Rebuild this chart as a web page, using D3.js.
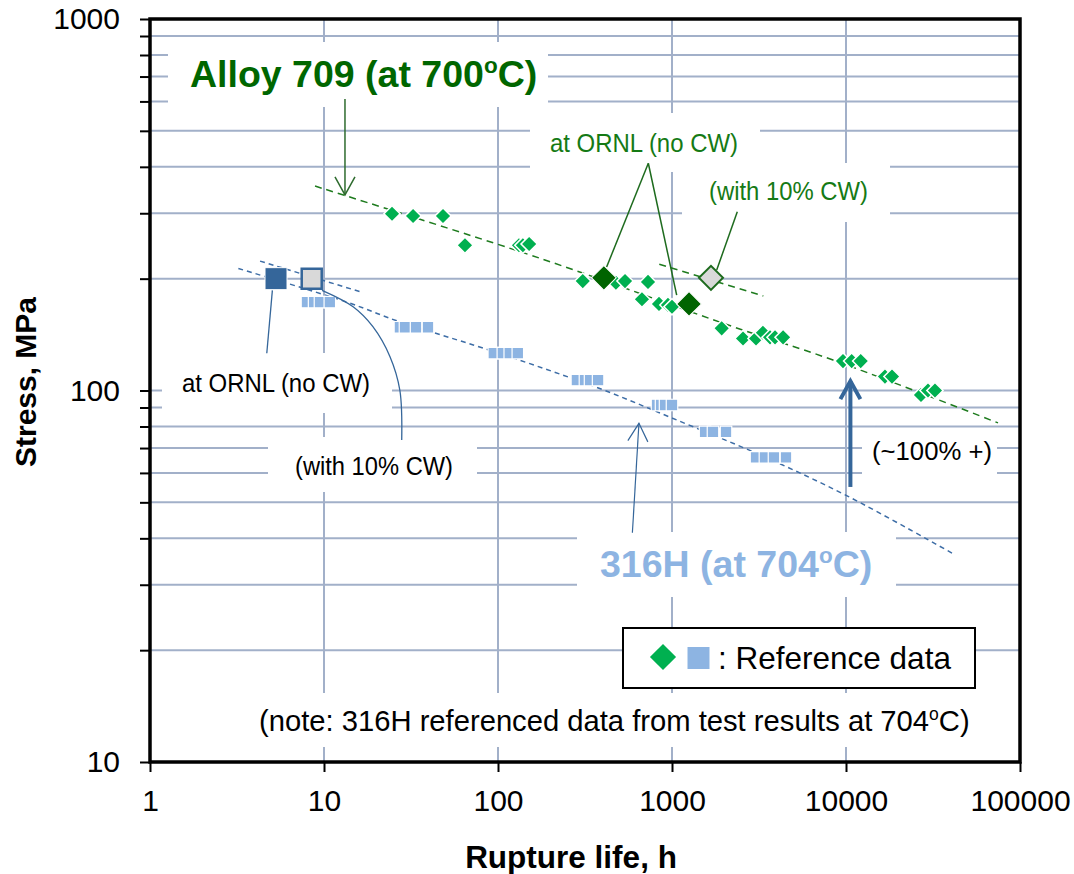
<!DOCTYPE html>
<html>
<head>
<meta charset="utf-8">
<script src="https://cdn.jsdelivr.net/npm/d3@7"></script>
<style>
  body { margin: 0; background: #fff; }
  svg { display: block; font-family: Arial, "Liberation Sans", sans-serif; }
</style>
</head>
<body>
<div id="chart"></div>
<script>
// [rupture life (h), stress (MPa)]
const alloyRef = [
  [24.6, 299], [32.5, 295], [48.3, 295], [64.6, 246], [132, 246], [139, 246], [151, 248],
  [307, 197], [476, 195], [537, 197], [728, 196], [672, 176], [842, 171], [948, 170], [1000, 168],
  [1930, 147], [2560, 138], [3040, 138], [3330, 143], [3660, 139], [3910, 139], [4350, 139],
  [9610, 120], [10780, 120], [12150, 120], [16750, 109], [18380, 109],
  [26980, 97.3], [29600, 100], [32460, 100]
];
const alloyOrnl = [[406, 201], [1253, 171]];
const alloyCw = [[1675, 201]];

const ss316Ref = [
  [7.98, 173], [8.77, 173], [9.48, 173], [10.8, 173],
  [27.3, 148], [29.2, 148], [33.8, 148], [39.6, 148],
  [94.6, 126], [106.6, 126], [116.8, 126], [130, 126],
  [284, 106.7], [316, 106.7], [338, 106.7], [376, 106.7],
  [820, 91.4], [865, 91.4], [912, 91.4], [1000, 91.4],
  [1549, 77.4], [1720, 77.4], [2044, 77.4],
  [3040, 66.1], [3420, 66.1], [3856, 66.1], [4520, 66.1]
];
const ss316Ornl = [[5.3, 200]];
const ss316Cw = [[8.5, 200]];

// trend lines
const alloyTrend = [[8.88, 355], [174, 227], [2243, 148.5], [8420, 120.8], [74750, 81.8]];
const alloyCwTrend = [[845, 218.8], [3348, 179.7]];
const ss316Trend = [[3.22, 213], [13.5, 173], [27.3, 153], [72.1, 132.6], [166.8, 116.4],
  [405, 100.3], [1007, 84.2], [3396, 66.3], [10350, 51.8], [40650, 36.5]];
const ss316CwTrend = [[4.29, 223], [16.8, 183.4]];

const xTicks = [1, 10, 100, 1000, 10000, 100000];
const yTicks = [10, 100, 1000];
const yMinor = [20, 30, 40, 50, 60, 70, 80, 90, 200, 300, 400, 500, 600, 700, 800, 900];

const W = 1074, H = 874;
const plot = { left: 150, right: 1020, top: 19, bottom: 762 };

const svg = d3.select('#chart').append('svg')
  .attr('width', W).attr('height', H);

const x = d3.scaleLog().domain([1, 100000]).range([plot.left, plot.right]);
const y = d3.scaleLog().domain([10, 1000]).range([plot.bottom, plot.top]);

const gridColor = '#a2b0c9';
const green = '#00b050', darkGreen = '#006400', lightBlue = '#8db4e2', darkBlue = '#35669a';

// Grid
svg.append('g').selectAll('line')
  .data(xTicks.slice(1, -1))
  .join('line')
  .attr('x1', d => x(d)).attr('x2', d => x(d))
  .attr('y1', plot.top).attr('y2', plot.bottom)
  .attr('stroke', gridColor).attr('stroke-width', 2);

svg.append('g').selectAll('line')
  .data(yMinor.concat([100]))
  .join('line')
  .attr('x1', plot.left).attr('x2', plot.right)
  .attr('y1', d => y(d)).attr('y2', d => y(d))
  .attr('stroke', gridColor).attr('stroke-width', 2);

// White text boxes (hide grid behind labels)
const boxes = [
  [168, 42, 380, 65], [530, 113, 230, 59], [682, 163, 208, 59],
  [162, 353, 230, 60], [268, 437, 209, 55], [577, 532, 319, 65],
  [862, 432, 135, 53], [250, 693, 725, 54]
];
svg.append('g').selectAll('rect')
  .data(boxes)
  .join('rect')
  .attr('x', d => d[0]).attr('y', d => d[1])
  .attr('width', d => d[2]).attr('height', d => d[3])
  .attr('fill', '#fff');

// Trend lines
const line = d3.line().x(d => x(d[0])).y(d => y(d[1])).curve(d3.curveCatmullRom);
const trends = [
  [alloyTrend, '#1e7b1e', '7,5'], [alloyCwTrend, '#1e7b1e', '7,5'],
  [ss316Trend, '#3d6da6', '5,4'], [ss316CwTrend, '#3d6da6', '5,4']
];
trends.forEach(([pts, c, dash]) => {
  svg.append('path').datum(pts)
    .attr('d', line)
    .attr('fill', 'none')
    .attr('stroke', c)
    .attr('stroke-width', 1.5)
    .attr('stroke-dasharray', dash);
});

// Markers
const diamond = s => d3.symbol(d3.symbolSquare, s * s)();
const square = s => d3.symbol(d3.symbolSquare, s * s)();

svg.append('g').selectAll('path')
  .data(ss316Ref)
  .join('path')
  .attr('d', square(11.5))
  .attr('transform', d => `translate(${x(d[0])},${y(d[1])})`)
  .attr('fill', lightBlue).attr('stroke', '#fff').attr('stroke-width', 1.2);

svg.append('g').selectAll('path')
  .data(alloyRef)
  .join('path')
  .attr('d', diamond(11.5))
  .attr('transform', d => `translate(${x(d[0])},${y(d[1])}) rotate(45)`)
  .attr('fill', green).attr('stroke', '#fff').attr('stroke-width', 1.5);

svg.append('g').selectAll('path')
  .data(alloyOrnl)
  .join('path')
  .attr('d', diamond(17.5))
  .attr('transform', d => `translate(${x(d[0])},${y(d[1])}) rotate(45)`)
  .attr('fill', darkGreen).attr('stroke', '#fff').attr('stroke-width', 1);

svg.append('g').selectAll('path')
  .data(alloyCw)
  .join('path')
  .attr('d', diamond(17))
  .attr('transform', d => `translate(${x(d[0])},${y(d[1])}) rotate(45)`)
  .attr('fill', '#d9d9d9').attr('stroke', '#1e6b1e').attr('stroke-width', 2);

svg.append('g').selectAll('path')
  .data(ss316Ornl)
  .join('path')
  .attr('d', square(22))
  .attr('transform', d => `translate(${x(d[0])},${y(d[1])})`)
  .attr('fill', darkBlue).attr('stroke', '#fff').attr('stroke-width', 1);

svg.append('g').selectAll('path')
  .data(ss316Cw)
  .join('path')
  .attr('d', square(20))
  .attr('transform', d => `translate(${x(d[0])},${y(d[1])})`)
  .attr('fill', '#d9d9d9').attr('stroke', darkBlue).attr('stroke-width', 2.5);

// Leader lines and arrows (positions in data units)
const leaders = [
  [[[731, 409], [421, 215]], '#1e6b1e', 1.5],
  [[[731, 409], [1064, 180.7]], '#1e6b1e', 1.5],
  [[[2373, 303], [1807, 211]], '#1e6b1e', 1.5],
  [[[4.69, 126], [5.05, 186]], darkBlue, 1.3]
];
leaders.forEach(([pts, c, w]) => {
  svg.append('path').datum(pts)
    .attr('d', d3.line().x(d => x(d[0])).y(d => y(d[1])))
    .attr('fill', 'none').attr('stroke', c).attr('stroke-width', w);
});

const cwCurve = [[9.74, 186], [14.7, 168], [19.1, 148.5], [23.95, 123.3], [27.3, 100], [27.97, 73.6]];
svg.append('path').datum(cwCurve)
  .attr('d', line)
  .attr('fill', 'none').attr('stroke', darkBlue).attr('stroke-width', 1.3);

function arrow(from, to, color, w) {
  const x1 = x(from[0]), y1 = y(from[1]), x2 = x(to[0]), y2 = y(to[1]);
  const a = Math.atan2(y2 - y1, x2 - x1), len = 18, half = 10;
  const bx = x2 - len * Math.cos(a), by = y2 - len * Math.sin(a);
  const px = -Math.sin(a) * half, py = Math.cos(a) * half;
  svg.append('line')
    .attr('x1', x1).attr('y1', y1).attr('x2', x2).attr('y2', y2)
    .attr('stroke', color).attr('stroke-width', w);
  svg.append('polyline')
    .attr('points', `${bx + px},${by + py} ${x2},${y2} ${bx - px},${by - py}`)
    .attr('fill', 'none').attr('stroke', color).attr('stroke-width', w);
}
arrow([13.2, 609], [13.2, 336], '#2e6b2e', 1.5);
arrow([592, 41.4], [645.6, 81.6], darkBlue, 1.2);
arrow([10600, 55], [10600, 106], darkBlue, 4);

// Labels: plain text pieces laid out one after another (small raised "o" for degrees)
function label(px, py, parts, opts) {
  let cx = px;
  parts.forEach(p => {
    const sup = typeof p === 'object';
    const size = sup ? opts.size * 0.6 : opts.size;
    const t = svg.append('text')
      .attr('x', cx).attr('y', sup ? py - opts.size * 0.38 : py)
      .attr('fill', opts.color)
      .attr('font-size', size)
      .attr('font-weight', opts.bold ? 'bold' : 'normal')
      .text(sup ? p.sup : p);
    if (opts.len) t.attr('textLength', opts.len).attr('lengthAdjust', 'spacingAndGlyphs');
    cx += t.node().getComputedTextLength();
  });
}
label(190, 87, ['Alloy 709 (at 700', { sup: 'o' }, 'C)'], { color: '#006600', size: 37.5, bold: true });
label(600, 577, ['316H (at 704', { sup: 'o' }, 'C)'], { color: lightBlue, size: 37.5, bold: true });
label(550, 152, ['at ORNL (no CW)'], { color: '#157a15', size: 25, len: 188 });
label(709, 200, ['(with 10% CW)'], { color: '#157a15', size: 25, len: 159 });
label(182, 392, ['at ORNL (no CW)'], { color: '#000', size: 25, len: 188 });
label(295, 475, ['(with 10% CW)'], { color: '#000', size: 25, len: 158 });
label(872, 460, ['(~100% +)'], { color: '#000', size: 25, len: 120 });
label(259, 731, ['(note: 316H referenced data from test results at 704', { sup: 'o' }, 'C)'],
  { color: '#000', size: 29.2 });

// Legend
const lg = svg.append('g');
lg.append('rect')
  .attr('x', 623).attr('y', 628).attr('width', 352).attr('height', 60)
  .attr('fill', '#fff').attr('stroke', '#000').attr('stroke-width', 2);
lg.append('path').attr('d', diamond(18.5))
  .attr('transform', 'translate(663,657) rotate(45)').attr('fill', green);
lg.append('path').attr('d', square(22))
  .attr('transform', 'translate(698.5,658)').attr('fill', lightBlue);
lg.append('text').attr('x', 718).attr('y', 669)
  .attr('font-size', 31.5).attr('fill', '#000').text(': Reference data');

// Frame
svg.append('rect')
  .attr('x', plot.left).attr('y', plot.top)
  .attr('width', plot.right - plot.left).attr('height', plot.bottom - plot.top)
  .attr('fill', 'none').attr('stroke', '#000').attr('stroke-width', 3.5);

// Axes
const xAxis = svg.append('g')
  .attr('transform', `translate(0,${plot.bottom})`)
  .call(d3.axisBottom(x).tickValues(xTicks).tickFormat(d3.format('d')).tickSize(10).tickPadding(18));
const yAxis = svg.append('g')
  .attr('transform', `translate(${plot.left},0)`)
  .call(d3.axisLeft(y).tickValues(yTicks.concat(yMinor))
    .tickFormat(d => yTicks.includes(d) ? d3.format('d')(d) : '')
    .tickSize(10).tickPadding(20));
[xAxis, yAxis].forEach(g => {
  g.select('.domain').remove();
  g.selectAll('.tick line').attr('stroke', '#000').attr('stroke-width', 2);
  g.selectAll('.tick text').attr('fill', '#000').attr('font-size', 30)
    .attr('font-family', 'Arial, "Liberation Sans", sans-serif');
});

// Axis titles
svg.append('text')
  .attr('x', 571).attr('y', 868).attr('text-anchor', 'middle')
  .attr('font-size', 31.5).attr('font-weight', 'bold').text('Rupture life, h');
svg.append('text')
  .attr('transform', 'translate(36,382) rotate(-90)').attr('text-anchor', 'middle')
  .attr('font-size', 30).attr('font-weight', 'bold').text('Stress, MPa');
</script>
</body>
</html>
